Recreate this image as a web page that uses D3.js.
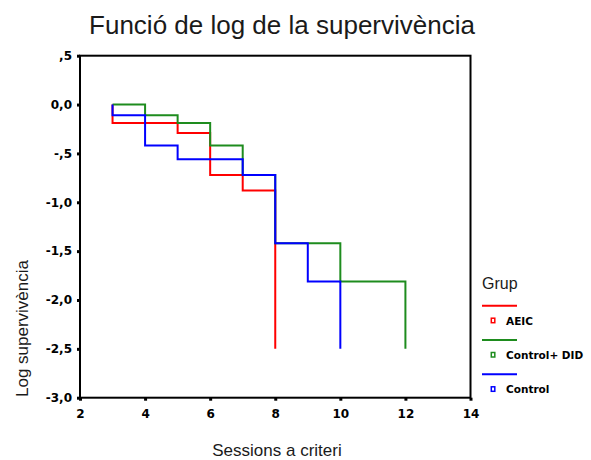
<!DOCTYPE html>
<html>
<head>
<meta charset="utf-8">
<script src="https://cdn.jsdelivr.net/npm/d3@7"></script>
<style>
  html, body { margin: 0; padding: 0; background: #fff; }
  svg { display: block; }
</style>
</head>
<body>
<svg id="chart" width="591" height="460"></svg>
<script>
// Log-survival step curves by group (Kaplan-Meier style)
const groups = ["AEIC", "Control+ DID", "Control"];
const groupColors = ["#ff0000", "#1e8c1e", "#0000ff"];

const aeicTimes = [3, 3, 5, 6, 7, 8];
const aeicLogSurv = [0, -0.19, -0.29, -0.72, -0.88, -2.5];

const didTimes = [3, 4, 5, 6, 7, 8, 10, 12];
const didLogSurv = [0, -0.11, -0.19, -0.42, -0.72, -1.42, -1.81, -2.5];

const controlTimes = [3, 3, 4, 5, 7, 8, 9, 10];
const controlLogSurv = [0, -0.11, -0.42, -0.56, -0.72, -1.42, -1.81, -2.5];

const xTicks = [2, 4, 6, 8, 10, 12, 14];
const xTickLabels = ["2", "4", "6", "8", "10", "12", "14"];
const yTicks = [0.5, 0, -0.5, -1, -1.5, -2, -2.5, -3];
const yTickLabels = [",5", "0,0", "-,5", "-1,0", "-1,5", "-2,0", "-2,5", "-3,0"];

const titleText = "Funció de log de la supervivència";
const xTitle = "Sessions a criteri";
const yTitle = "Log supervivència";
const legendTitle = "Grup";

const svg = d3.select("#chart");
const plot = { left: 80, right: 470.5, top: 55.7, bottom: 397.7 };

const x = d3.scaleLinear().domain([2, 14]).range([plot.left, plot.right]);
const y = d3.scaleLinear().domain([-3, 0.5]).range([plot.bottom, plot.top]);

const tickFont = "'DejaVu Sans', sans-serif";
const textFont = "'Liberation Sans', Arial, sans-serif";

// Title
svg.append("text")
  .attr("x", 282).attr("y", 34)
  .attr("text-anchor", "middle")
  .attr("font-family", textFont)
  .attr("font-size", 26)
  .attr("fill", "#1a1a1a")
  .text(titleText);

// Y axis
const yAxis = svg.append("g")
  .attr("transform", `translate(${plot.left},0)`)
  .call(d3.axisLeft(y).tickValues(yTicks).tickSize(3).tickPadding(5)
    .tickFormat((d, i) => yTickLabels[i]));
yAxis.select(".domain").remove();
yAxis.selectAll(".tick line").attr("stroke", "#000").attr("stroke-width", 3);
yAxis.selectAll(".tick text")
  .attr("font-family", tickFont).attr("font-weight", "bold")
  .attr("font-size", 12).attr("fill", "#000");

// X axis
const xAxis = svg.append("g")
  .attr("transform", `translate(0,${plot.bottom})`)
  .call(d3.axisBottom(x).tickValues(xTicks).tickSize(3).tickPadding(9)
    .tickFormat((d, i) => xTickLabels[i]));
xAxis.select(".domain").remove();
xAxis.selectAll(".tick line").attr("stroke", "#000").attr("stroke-width", 3);
xAxis.selectAll(".tick text")
  .attr("font-family", tickFont).attr("font-weight", "bold")
  .attr("font-size", 12).attr("fill", "#000");

// Plot frame
svg.append("rect")
  .attr("x", plot.left).attr("y", plot.top)
  .attr("width", plot.right - plot.left).attr("height", plot.bottom - plot.top)
  .attr("fill", "none").attr("stroke", "#000").attr("stroke-width", 2);

// Step curves
const line = d3.line()
  .x(d => x(d[0]))
  .y(d => y(d[1]))
  .curve(d3.curveStepAfter);

const series = [
  d3.zip(aeicTimes, aeicLogSurv),
  d3.zip(didTimes, didLogSurv),
  d3.zip(controlTimes, controlLogSurv)
];

svg.append("g").selectAll("path")
  .data(series)
  .join("path")
  .attr("d", line)
  .attr("fill", "none")
  .attr("stroke", (d, i) => groupColors[i])
  .attr("stroke-width", 2)
  .attr("stroke-linejoin", "miter");

// Axis titles
svg.append("text")
  .attr("x", 277).attr("y", 456)
  .attr("text-anchor", "middle")
  .attr("font-family", textFont)
  .attr("font-size", 17)
  .attr("fill", "#1a1a1a")
  .text(xTitle);

svg.append("text")
  .attr("transform", "translate(28,328.5) rotate(-90)")
  .attr("text-anchor", "middle")
  .attr("font-family", textFont)
  .attr("font-size", 17)
  .attr("fill", "#1a1a1a")
  .text(yTitle);

// Legend
const legend = svg.append("g");
legend.append("text")
  .attr("x", 482).attr("y", 289)
  .attr("font-family", textFont)
  .attr("font-size", 16)
  .attr("fill", "#1a1a1a")
  .text(legendTitle);

const items = legend.selectAll("g.item")
  .data(groups)
  .join("g")
  .attr("class", "item")
  .attr("transform", (d, i) => `translate(0,${305.7 + i * 34.3})`);

items.append("line")
  .attr("x1", 482).attr("x2", 517)
  .attr("y1", 0).attr("y2", 0)
  .attr("stroke", (d, i) => groupColors[i])
  .attr("stroke-width", 2);

items.append("rect")
  .attr("x", 491.3).attr("y", 12.5)
  .attr("width", 3.5).attr("height", 4.5)
  .attr("fill", "#fff")
  .attr("stroke", (d, i) => groupColors[i])
  .attr("stroke-width", 1.5);

items.append("text")
  .attr("x", 506).attr("y", 19)
  .attr("font-family", tickFont).attr("font-weight", "bold")
  .attr("font-size", 10.5)
  .attr("fill", "#000")
  .text(d => d);
</script>
</body>
</html>
